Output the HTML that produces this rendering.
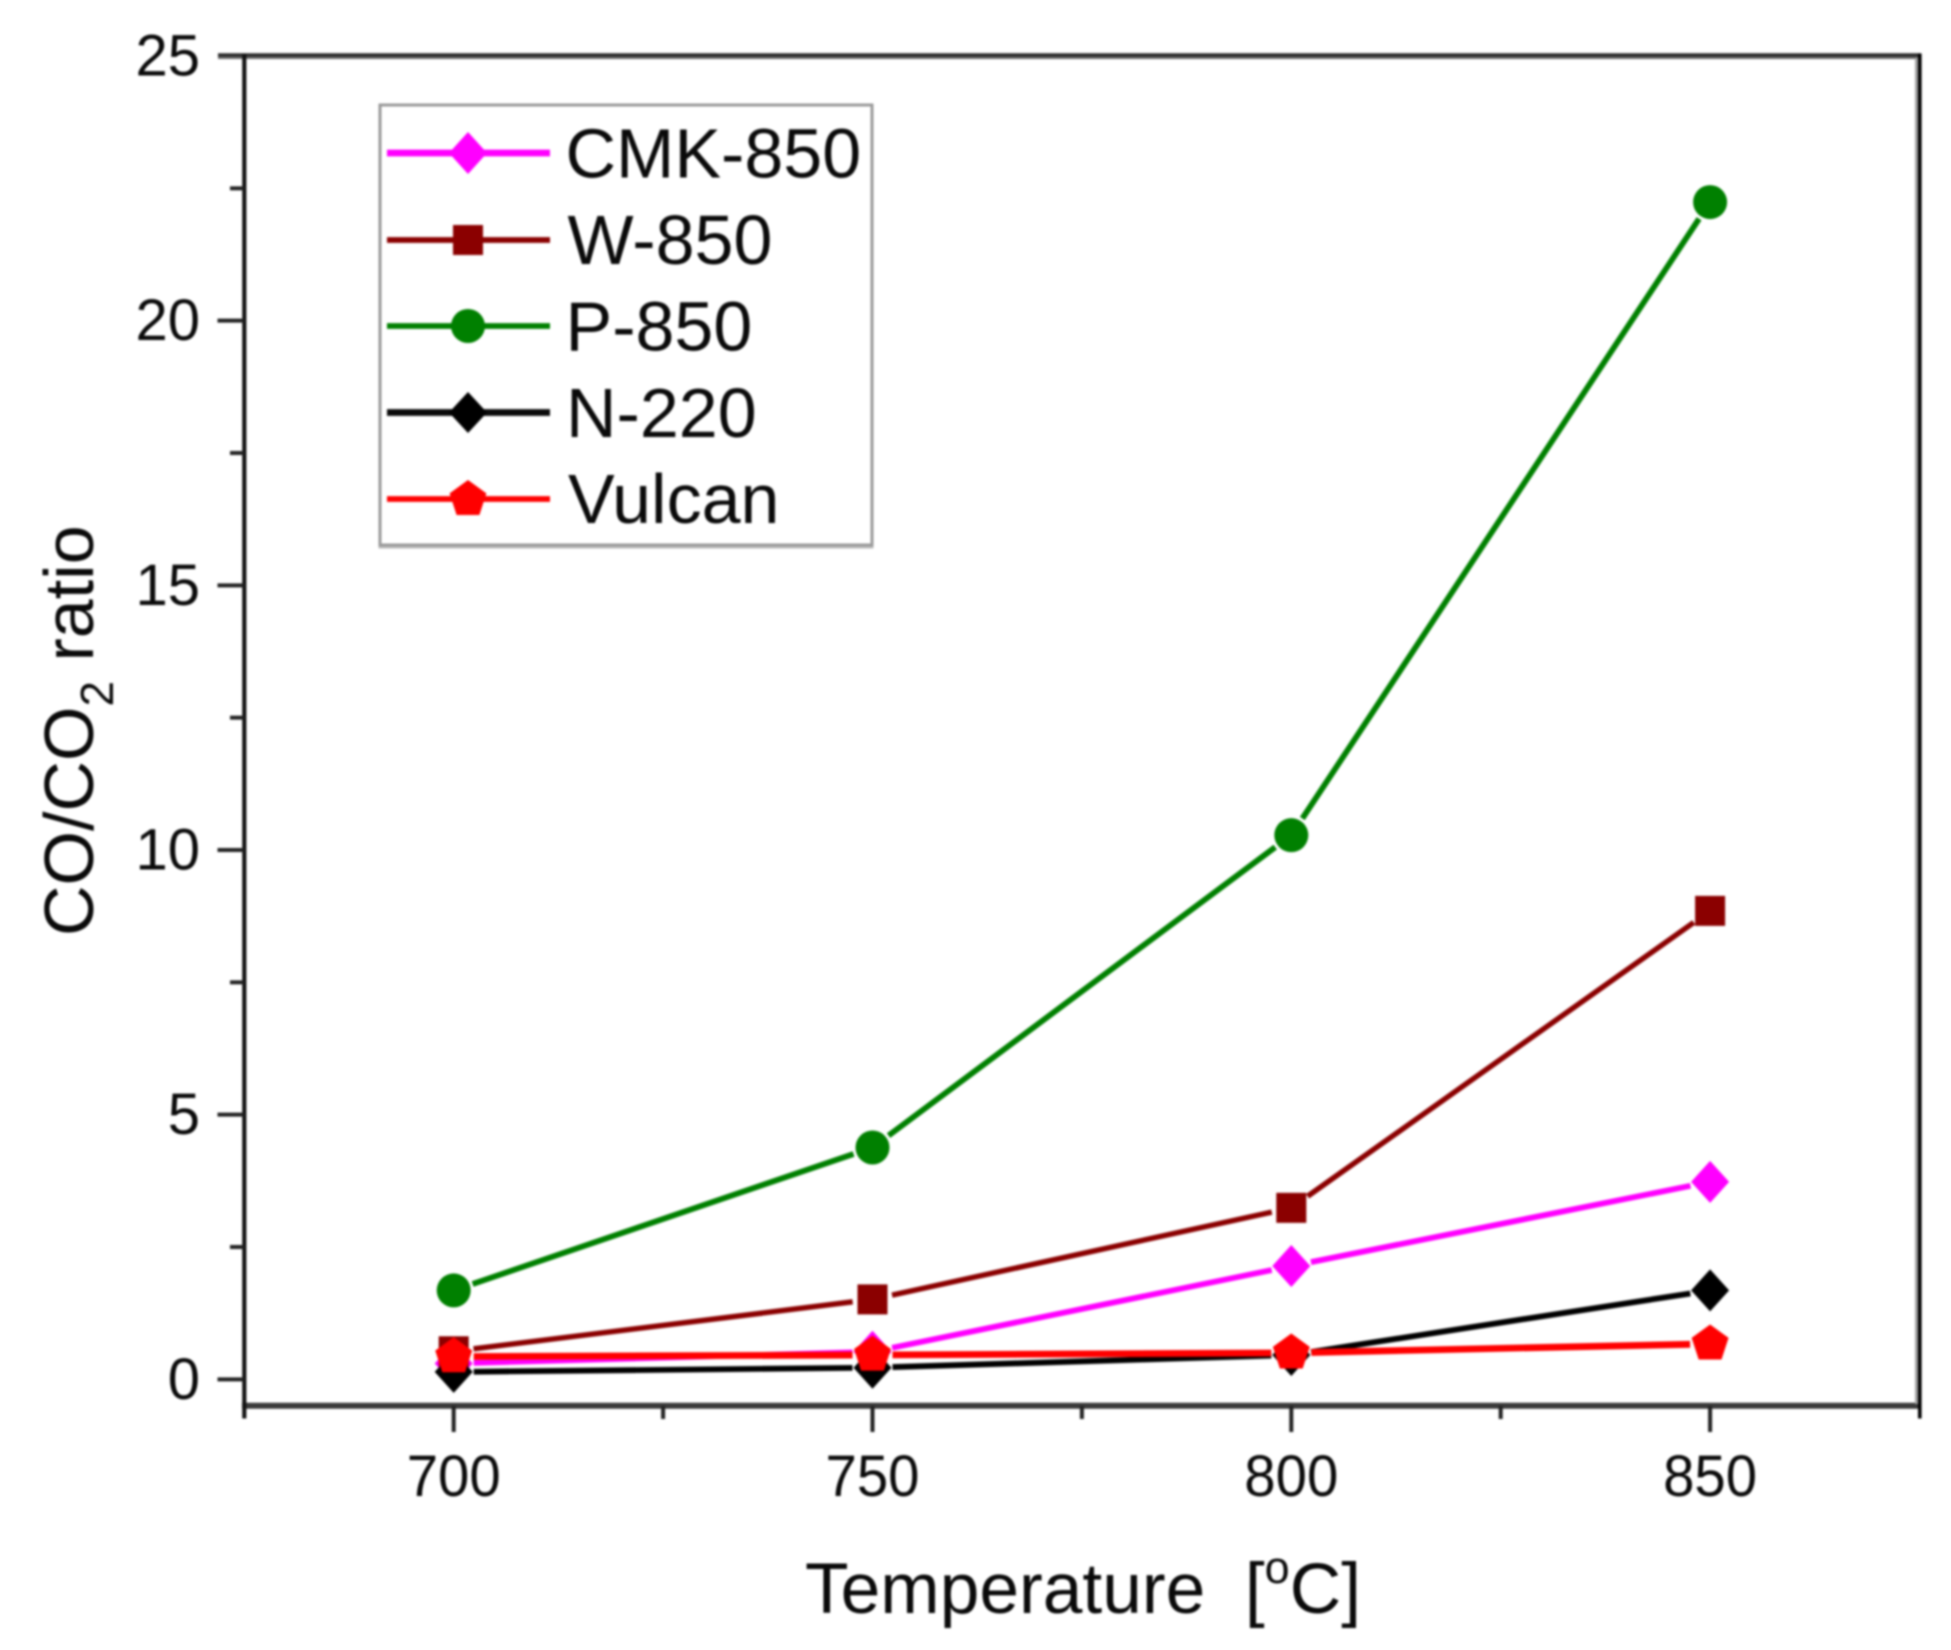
<!DOCTYPE html>
<html>
<head>
<meta charset="utf-8">
<title>CO/CO2 ratio vs temperature</title>
<style>
html,body{margin:0;padding:0;background:#fff;}
body{width:1951px;height:1650px;overflow:hidden;}
svg{display:block;filter:blur(1px);}
text{font-family:"Liberation Sans",Arial,sans-serif;fill:#0a0a0a;}
</style>
</head>
<body>
<svg id="chart" xmlns="http://www.w3.org/2000/svg" width="1951" height="1650" viewBox="0 0 1951 1650">
  <rect x="0" y="0" width="1951" height="1650" fill="#ffffff"/>
  <g id="axes"></g>
  <g id="series"></g>
  <g id="legend">
    <rect x="380" y="107" width="492" height="440" fill="none" stroke="#bdbdbd" stroke-width="3"/>
    <rect x="380" y="105" width="492" height="440" fill="#ffffff" stroke="#9a9a9a" stroke-width="3"/>
    <g>
      <line x1="387" x2="550" y1="153" y2="153" stroke="#ff00ff" stroke-width="6.8"/>
      <polygon points="468,132 487,153 468,174 449,153" fill="#ff00ff"/>
      <text x="565.5" y="177.5" font-size="70">CMK-850</text>
    </g>
    <g>
      <line x1="387" x2="550" y1="240" y2="240" stroke="#8b0000" stroke-width="5.8"/>
      <rect x="453" y="225" width="30" height="30" fill="#8b0000"/>
      <text x="567.5" y="264" font-size="70">W-850</text>
    </g>
    <g>
      <line x1="387" x2="550" y1="326" y2="326" stroke="#008000" stroke-width="5.8"/>
      <circle cx="468" cy="326" r="17" fill="#008000"/>
      <text x="565.5" y="350.5" font-size="70">P-850</text>
    </g>
    <g>
      <line x1="387" x2="550" y1="412.5" y2="412.5" stroke="#0a0a0a" stroke-width="6.8"/>
      <polygon points="468,392 487,412.5 468,433 449,412.5" fill="#000000"/>
      <text x="566" y="437" font-size="70">N-220</text>
    </g>
    <g>
      <line x1="387" x2="550" y1="499" y2="499" stroke="#ff0000" stroke-width="5.8"/>
      <polygon points="468,480 486.4,493.4 479.4,515 456.6,515 449.6,493.4" fill="#ff0000"/>
      <text x="568" y="523" font-size="70">Vulcan</text>
    </g>
  </g>
  <text x="805" y="1613" font-size="71.3" xml:space="preserve">Temperature  [<tspan font-size="45" dy="-30">o</tspan><tspan dy="30">C]</tspan></text>
  <text transform="translate(93,936) rotate(-90)" font-size="70">CO/CO<tspan font-size="46" dy="20">2</tspan><tspan dy="-20"> ratio</tspan></text>
</svg>
<script>
const temperatures = [700, 750, 800, 850];
const cmk850Values = [0.30, 0.52, 2.14, 3.73];
const w850Values = [0.53, 1.51, 3.24, 8.85];
const p850Values = [1.68, 4.38, 10.28, 22.24];
const n220Values = [0.14, 0.22, 0.46, 1.68];
const vulcanValues = [0.43, 0.46, 0.50, 0.67];
const xTickLabels = [700, 750, 800, 850];
const xMinorTicks = [725, 775, 825];
const yTickLabels = [0, 5, 10, 15, 20, 25];
const yMinorTicks = [2.5, 7.5, 12.5, 17.5, 22.5];

const NS = 'http://www.w3.org/2000/svg';
const xDomain = [675, 875];
const yDomain = [-0.5, 25];
const plot = {left: 244.3, right: 1919.5, top: 56, bottom: 1405.8};

function xScale(v) {
  return plot.left + (v - xDomain[0]) / (xDomain[1] - xDomain[0]) * (plot.right - plot.left);
}
function yScale(v) {
  return plot.bottom - (v - yDomain[0]) / (yDomain[1] - yDomain[0]) * (plot.bottom - plot.top);
}
function make(tag, attrs) {
  const el = document.createElementNS(NS, tag);
  for (const k in attrs) el.setAttribute(k, attrs[k]);
  return el;
}

const axes = document.getElementById('axes');
const seriesLayer = document.getElementById('series');

function addAxisLine(name, x1, y1, x2, y2, color, width) {
  const el = make('line', {x1: x1, y1: y1, x2: x2, y2: y2, stroke: color, 'stroke-width': width});
  
  
  axes.appendChild(el);
}

addAxisLine('top-axis-line-shade', 218, 57.5, 1921, 57.5, '#6a6a6a', 3);
addAxisLine('top-axis-line', 218, 55, 1921, 55, '#2c2c2c', 3.4);
addAxisLine('bottom-axis-line', 242, 1405.8, 1921, 1405.8, '#3a3a3a', 6);
addAxisLine('left-axis-line', 244.3, 54, 244.3, 1418.5, '#111111', 4.2);
addAxisLine('right-axis-line-shade', 1916.5, 58, 1916.5, 1404, '#a0a0a0', 3);
addAxisLine('right-axis-line', 1919.8, 53.5, 1919.8, 1418.5, '#000000', 3.6);

xTickLabels.forEach(function (v) {
  const x = xScale(v);
  addAxisLine('x-major-tick-' + v, x, 1406, x, 1432, '#222222', 4);
  const label = make('text', {x: x, y: 1496, 'font-size': 58, 'text-anchor': 'middle', textLength: 94, lengthAdjust: 'spacingAndGlyphs'});
  label.textContent = String(v);
  
  
  axes.appendChild(label);
});
xMinorTicks.forEach(function (v) {
  const x = xScale(v);
  addAxisLine('x-minor-tick-' + v, x, 1406, x, 1419, '#222222', 4);
});
yTickLabels.forEach(function (v) {
  const y = yScale(v);
  if (v !== 25) addAxisLine('y-major-tick-' + v, 217.5, y, 244, y, '#222222', 4);
  const label = make('text', {x: 200, y: y + 19.5, 'font-size': 58, 'text-anchor': 'end'});
  label.textContent = String(v);
  
  
  axes.appendChild(label);
});
yMinorTicks.forEach(function (v) {
  const y = yScale(v);
  addAxisLine('y-minor-tick-' + v, 230, y, 244, y, '#222222', 4);
});

function diamondPoints(cx, cy) {
  return [[cx, cy - 21], [cx + 19, cy], [cx, cy + 21], [cx - 19, cy]].map(function (p) { return p.join(','); }).join(' ');
}
function pentagonPoints(cx, cy) {
  const r = 19.4;
  const pts = [];
  for (let i = 0; i < 5; i++) {
    const a = -Math.PI / 2 + i * 2 * Math.PI / 5;
    pts.push((cx + r * Math.cos(a)).toFixed(2) + ',' + (cy + r * Math.sin(a)).toFixed(2));
  }
  return pts.join(' ');
}
function makeMarker(kind, cx, cy, color) {
  if (kind === 'square') return make('rect', {x: cx - 15, y: cy - 15, width: 30, height: 30, fill: color});
  if (kind === 'circle') return make('circle', {cx: cx, cy: cy, r: 17, fill: color});
  if (kind === 'pentagon') return make('polygon', {points: pentagonPoints(cx, cy), fill: color});
  return make('polygon', {points: diamondPoints(cx, cy), fill: color});
}

function drawSeries(name, values, color, width, kind) {
  const group = make('g', {});
  
  
  const gap = 20;
  for (let i = 0; i < values.length - 1; i++) {
    const x1 = xScale(temperatures[i]);
    const y1 = yScale(values[i]);
    const x2 = xScale(temperatures[i + 1]);
    const y2 = yScale(values[i + 1]);
    const len = Math.hypot(x2 - x1, y2 - y1);
    const ux = (x2 - x1) / len;
    const uy = (y2 - y1) / len;
    const seg = make('line', {
      x1: x1 + ux * gap, y1: y1 + uy * gap,
      x2: x2 - ux * gap, y2: y2 - uy * gap,
      stroke: color, 'stroke-width': width
    });
    
    
    group.appendChild(seg);
  }
  values.forEach(function (v, i) {
    const marker = makeMarker(kind, xScale(temperatures[i]), yScale(v), color);
    
    
    group.appendChild(marker);
  });
  seriesLayer.appendChild(group);
}

drawSeries('cmk-850', cmk850Values, '#ff00ff', 5.8, 'diamond');
drawSeries('w-850', w850Values, '#8b0000', 5.4, 'square');
drawSeries('p-850', p850Values, '#008000', 5.8, 'circle');
drawSeries('n-220', n220Values, '#000000', 5.8, 'diamond');
drawSeries('vulcan', vulcanValues, '#ff0000', 6.8, 'pentagon');
</script>
</body>
</html>
